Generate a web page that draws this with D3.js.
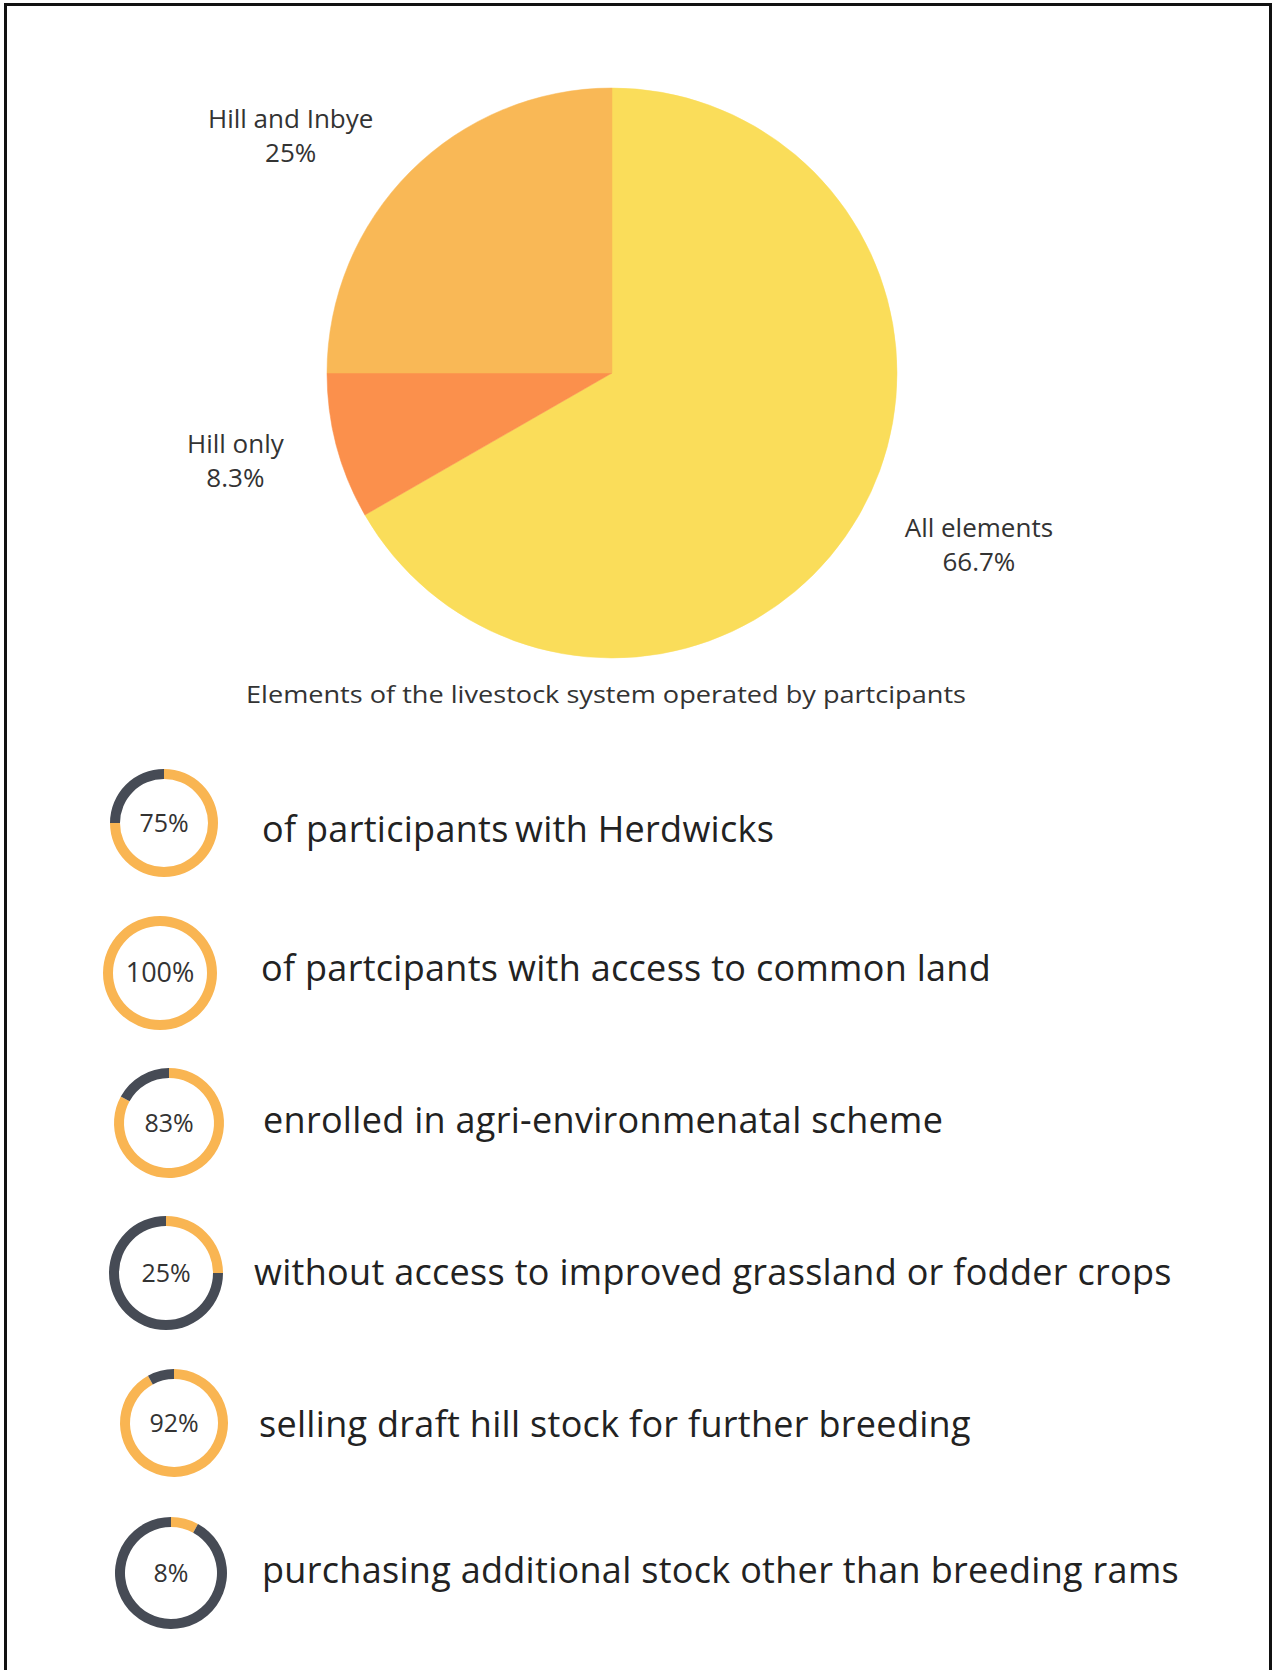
<!DOCTYPE html>
<html>
<head>
<meta charset="utf-8">
<script src="https://cdn.jsdelivr.net/npm/d3@7"></script>
<style>
  html, body { margin: 0; padding: 0; background: #fff; }
  svg { display: block; }
</style>
</head>
<body>
<div id="chart"></div>
<script>
// Pie: elements of the livestock system
var pieNames = ["All elements", "Hill only", "Hill and Inbye"];
var pieValues = [66.7, 8.3, 25];
var pieLabels = ["66.7%", "8.3%", "25%"];
var pieColors = ["#fadd5a", "#fb904c", "#f9b856"];
var pieTitle = "Elements of the livestock system operated by partcipants";

// Ring stats
var statValues = [75, 100, 83, 25, 92, 8];
var statLabels = ["75%", "100%", "83%", "25%", "92%", "8%"];
var statTexts = [
  "of participants\u2009with Herdwicks",
  "of partcipants with access to common land",
  "enrolled in agri-environmenatal scheme",
  "without access to improved grassland or fodder crops",
  "selling draft hill stock for further breeding",
  "purchasing additional stock other than breeding rams"
];

var W = 1277, H = 1670;
var FONT = "'Open Sans', 'Noto Sans', sans-serif";

var svg = d3.select("#chart").append("svg")
  .attr("width", W)
  .attr("height", H)
  ;

// Background + frame
svg.append("rect")
  .attr("width", W).attr("height", H)
  .style("fill", "#fff");

svg.append("rect")
  .attr("x", 5.5).attr("y", 4.5)
  .attr("width", 1265).attr("height", 1700)
  .style("fill", "none")
  .style("stroke", "#111")
  .style("stroke-width", 3)
  ;

// ---- Pie ----
var pieC = { x: 612, y: 373 };
var pieR = 285;
var labelR = 395;

var pie = d3.pie().sort(null).value(function(d) { return d; });
var arc = d3.arc().innerRadius(0).outerRadius(pieR);
var labelArc = d3.arc().innerRadius(labelR).outerRadius(labelR);

// small hand nudges so labels sit where the original put them
var labelNudge = {
  "All elements": [25, -25],
  "Hill only": [5, -13],
  "Hill and Inbye": [-42, 43]
};

var gPie = svg.append("g")
  .attr("class", "pie")
  .attr("transform", translate(pieC.x, pieC.y))
  ;

var slices = pie(pieValues);

gPie.selectAll("path.slice")
  .data(slices)
  .enter().append("path")
    .attr("class", "slice")
    .attr("d", arc)
    .style("fill", function(d, i) { return pieColors[i]; })
    .style("stroke", function(d, i) { return pieColors[i]; })
    .style("stroke-width", 0.5)
    ;

var lab = gPie.selectAll("text.plabel")
  .data(slices)
  .enter().append("text")
    .attr("class", "plabel")
    .attr("transform", function(d, i) {
      var c = labelArc.centroid(d);
      var n = labelNudge[pieNames[i]];
      return translate(c[0] + n[0], c[1] + n[1]);
    })
    .attr("text-anchor", "middle")
    .style("font-family", FONT)
    .style("font-size", "26px")
    .style("fill", "#333")
    ;

lab.append("tspan")
  .attr("x", 0).attr("y", -9)
  .text(function(d, i) { return pieNames[i]; });

lab.append("tspan")
  .attr("x", 0).attr("y", 25)
  .text(function(d, i) { return pieLabels[i]; });

svg.append("text")
  .attr("x", 606).attr("y", 703)
  .attr("text-anchor", "middle")
  .attr("textLength", 720)
  .attr("lengthAdjust", "spacingAndGlyphs")
  .style("font-family", FONT)
  .style("font-size", "24px")
  .style("fill", "#333")
  .text(pieTitle)
  ;

// ---- Rings ----
var ringW = 10;
var ringOrange = "#f9b552", ringDark = "#464b55";

// the original rings are not quite lined up; per-row centre x, radius, text x, text dy
var ringLayout = [
  { cx: 164, r: 54, tx: 262, ty: 19 },
  { cx: 160, r: 57, tx: 261, ty: 8 },
  { cx: 169, r: 55, tx: 263, ty: 10 },
  { cx: 166, r: 57, tx: 254, ty: 12 },
  { cx: 174, r: 54, tx: 259, ty: 14 },
  { cx: 171, r: 56, tx: 262, ty: 10 }
];

var rowY = d3.scalePoint()
  .domain(d3.range(statValues.length))
  .range([823, 1573])
  ;

var ringPie = d3.pie().sort(null).value(function(d) { return d; });

var rows = svg.selectAll("g.stat")
  .data(statValues)
  .enter().append("g")
    .attr("class", "stat")
    .attr("transform", function(d, i) { return translate(0, rowY(i)); })
    ;

rows.each(function(v, i) {
  var L = ringLayout[i];
  var ringArc = d3.arc().innerRadius(L.r - ringW).outerRadius(L.r);

  var g = d3.select(this).append("g")
    .attr("transform", translate(L.cx, 0));

  g.selectAll("path")
    .data(ringPie([v, 100 - v]))
    .enter().append("path")
      .attr("d", ringArc)
      .style("fill", function(d, j) { return j == 0 ? ringOrange : ringDark; })
      ;

  g.append("text")
    .attr("y", 9)
    .attr("text-anchor", "middle")
    .style("font-family", FONT)
    .style("font-size", v == 100 ? "27px" : "25px")
    .style("fill", "#333")
    .text(statLabels[i]);

  d3.select(this).append("text")
    .attr("x", L.tx)
    .attr("y", L.ty)
    .style("font-family", FONT)
    .style("font-size", "36px")
    .style("letter-spacing", "0.3px")
    .style("fill", "#222")
    .text(statTexts[i]);
});

function translate(x, y) {
  return "translate(" + x + " " + y + ")";
}
</script>
</body>
</html>
